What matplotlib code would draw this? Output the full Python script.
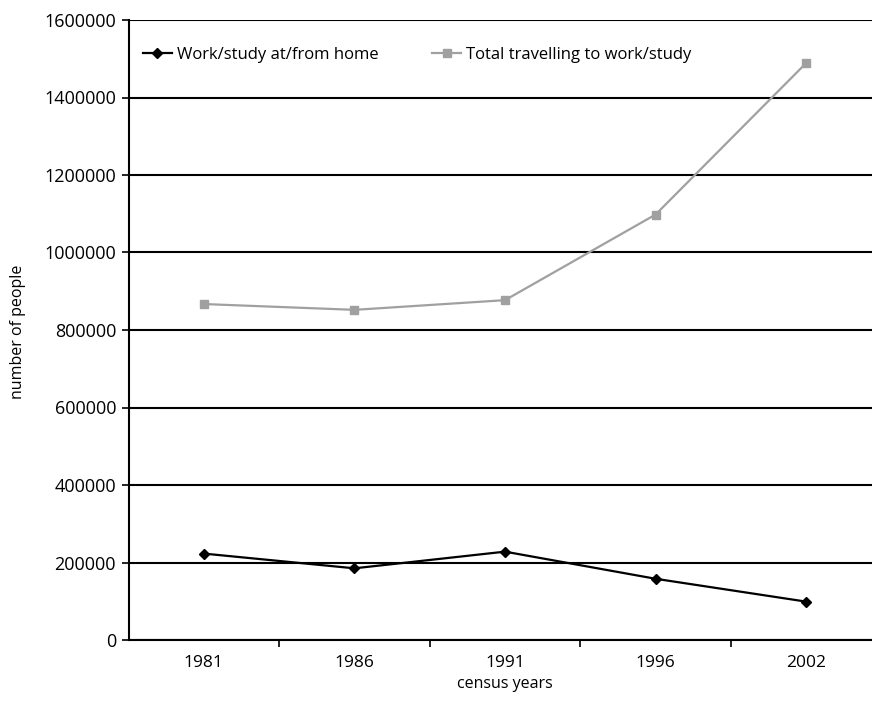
import matplotlib
matplotlib.use("Agg")
import matplotlib.pyplot as plt

years = ["1981", "1986", "1991", "1996", "2002"]
home = [223000, 185000, 228000, 158000, 99000]
travel = [867000, 852000, 877000, 1098000, 1489000]
yticks = [0, 200000, 400000, 600000, 800000, 1000000, 1200000, 1400000, 1600000]

plt.rcParams['font.family'] = ['Open Sans', 'DejaVu Sans']

W, H = 872, 704
fig = plt.figure(figsize=(W / 100, H / 100), dpi=100)
left_px, right_px = 128.5, 881.5
top_px, bot_px = 20, 640
ax = fig.add_axes([left_px / W, (H - bot_px) / H, (right_px - left_px) / W, (bot_px - top_px) / H])

x = list(range(len(years)))
ax.plot(x, home, color='black', lw=1.6, marker='D', ms=5, mec='black', mfc='black',
        label='Work/study at/from home', clip_on=False)
ax.plot(x, travel, color='#a0a0a0', lw=1.6, marker='s', ms=5.5, mec='#a0a0a0', mfc='#a0a0a0',
        label='Total travelling to work/study', clip_on=False)

ax.set_xlim(-0.5, len(years) - 0.5)
ax.set_ylim(0, 1600000)
ax.set_yticks(yticks)
ax.set_yticklabels([str(v) for v in yticks], fontsize=13)
ax.yaxis.grid(True, color='black', lw=1.5)
ax.set_axisbelow(True)

ax.set_xticks(x)
ax.set_xticklabels(years, fontsize=12.5)
ax.tick_params(axis='x', which='major', length=0, pad=11)
ax.set_xticks([i + 0.5 for i in range(len(years) - 1)], minor=True)
ax.tick_params(axis='x', which='minor', length=5, width=1.2, color='black', direction='out')
ax.tick_params(axis='y', length=5, width=1.2, color='black', direction='out', pad=4)

for s in ['top', 'right']:
    ax.spines[s].set_visible(False)
ax.spines['left'].set_linewidth(1.5)
ax.spines['bottom'].set_linewidth(1.5)

fig.text(18 / W, 1 - 332 / H, 'number of people', rotation=90, ha='center', va='center', fontsize=11.5)
fig.text(505 / W, 1 - 684 / H, 'census years', ha='center', va='center', fontsize=11.5)

leg = ax.legend(loc='center left', bbox_to_anchor=(0.019, 1 - 35 / 620), ncol=2, frameon=False,
                fontsize=12, handlelength=1.75, handletextpad=0.3, columnspacing=3.2,
                borderaxespad=0, borderpad=0)

fig.savefig('out.png', dpi=100)
